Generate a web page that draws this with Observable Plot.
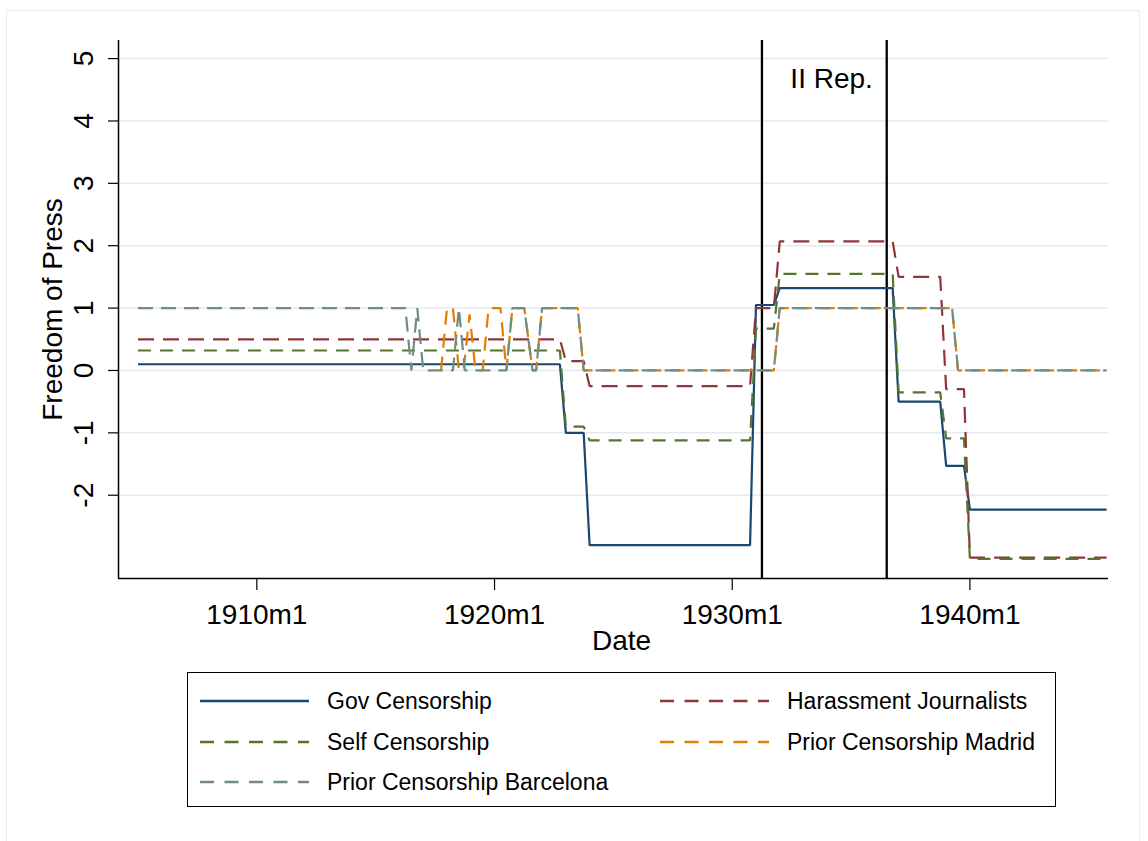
<!DOCTYPE html>
<html>
<head>
<meta charset="utf-8">
<script src="https://cdn.jsdelivr.net/npm/d3@7"></script>
<script src="https://cdn.jsdelivr.net/npm/@observablehq/plot@0.6"></script>
<style>
  body { margin: 0; background: #fff; font-family: "Liberation Sans", Arial, sans-serif; }
  #wrap { position: relative; width: 1148px; height: 841px; overflow: hidden; background: #fff; }
  #border { position: absolute; left: 6px; top: 10px; width: 1134px; height: 880px; border: 1.5px solid #e6edf0; box-sizing: border-box; }
  #chart { position: absolute; left: 0; top: 0; }
  #legend { position: absolute; left: 187px; top: 672px; width: 869px; height: 135px; border: 1.5px solid #000; box-sizing: border-box; background: #fff; }
  .item { position: absolute; height: 30px; display: flex; align-items: center; font-size: 23px; color: #000; white-space: nowrap; }
  .item svg { margin-right: 18px; }
</style>
</head>
<body>
<div id="wrap">
  <div id="border"></div>
  <div id="chart"></div>
  <div id="legend"></div>
</div>
<script>
// ---- Data (date in decimal years, value) ----
const seriesNames = ["Gov Censorship", "Harassment Journalists", "Self Censorship", "Prior Censorship Madrid", "Prior Censorship Barcelona"];
const seriesColors = ["#1a476f", "#90353b", "#55752f", "#e37e00", "#6e8e84"];
const seriesDashes = [null, "16,9", "13,9", "14,9", "15,8"];

const govCensorship = [
  [1905.0, 0.1], [1922.75, 0.1], [1923.0, -1.0], [1923.75, -1.0], [1924.0, -2.8],
  [1930.75, -2.8], [1931.0, 1.05], [1931.75, 1.05], [1932.0, 1.32], [1936.75, 1.32],
  [1937.0, -0.5], [1938.75, -0.5], [1939.0, -1.53], [1939.75, -1.53], [1940.0, -2.23], [1945.75, -2.23]
];
const harassmentJournalists = [
  [1905.0, 0.5], [1922.75, 0.5], [1923.0, 0.15], [1923.75, 0.15], [1924.0, -0.25],
  [1930.75, -0.25], [1931.0, 1.0], [1931.75, 1.0], [1932.0, 2.07], [1936.75, 2.07],
  [1937.0, 1.5], [1938.75, 1.5], [1939.0, -0.3], [1939.75, -0.3], [1940.0, -3.0], [1945.75, -3.0]
];
const selfCensorship = [
  [1905.0, 0.32], [1922.75, 0.32], [1923.0, -0.9], [1923.75, -0.9], [1924.0, -1.12],
  [1930.75, -1.12], [1931.0, 0.67], [1931.75, 0.67], [1932.0, 1.55], [1936.75, 1.55],
  [1937.0, -0.35], [1938.75, -0.35], [1939.0, -1.09], [1939.75, -1.09], [1940.0, -3.02], [1945.75, -3.02]
];
const priorCensorshipMadrid = [
  [1917.75, 0], [1918.0, 1], [1918.25, 1], [1918.5, 0], [1918.7, 0], [1918.95, 0.9], [1919.2, 0],
  [1919.5, 0], [1919.75, 1], [1920.25, 1], [1920.5, 0], [1920.75, 1], [1921.25, 1], [1921.6, 0],
  [1921.75, 0], [1922.0, 1], [1923.5, 1], [1923.75, 0], [1931.75, 0], [1932.0, 1],
  [1939.25, 1], [1939.5, 0], [1945.75, 0]
];
const priorCensorshipBarcelona = [
  [1905.0, 1], [1916.25, 1], [1916.5, 0], [1916.75, 1], [1917.0, 0], [1918.25, 0], [1918.5, 1],
  [1918.75, 0], [1920.5, 0], [1920.75, 1], [1921.25, 1], [1921.6, 0], [1921.75, 0], [1922.0, 1],
  [1923.5, 1], [1923.75, 0], [1931.75, 0], [1932.0, 1], [1939.25, 1], [1939.5, 0], [1945.75, 0]
];
const seriesData = [govCensorship, harassmentJournalists, selfCensorship, priorCensorshipMadrid, priorCensorshipBarcelona];

const xTicks = [1910, 1920, 1930, 1940];
const yTicks = [5, 4, 3, 2, 1, 0, -1, -2];
const republicBounds = [1931.25, 1936.5]; // 1931m4, 1936m7
const republicLabel = "II Rep.";
const republicLabelPos = [1934.18, 4.68];
const xTitle = "Date";
const yTitle = "Freedom of Press";
const xDomain = [1904.18, 1945.83];
const yDomain = [-3.335, 5.29];

const FONT = '"Liberation Sans", Arial, sans-serif';

const lineMarks = seriesData.map((data, i) =>
  Plot.line(data, {
    x: d => d[0], y: d => d[1],
    stroke: seriesColors[i], strokeWidth: 2.2,
    strokeDasharray: seriesDashes[i] || undefined,
    strokeLinecap: "butt", strokeLinejoin: "miter"
  })
);

const chart = Plot.plot({
  width: 1148, height: 665,
  marginLeft: 118, marginRight: 40, marginTop: 40, marginBottom: 87,
  x: { domain: xDomain },
  y: { domain: yDomain },
  style: { fontFamily: FONT, background: "transparent", color: "#000", overflow: "visible" },
  marks: [
    Plot.gridY({ ticks: yTicks, stroke: "#e2eaee", strokeOpacity: 1, strokeWidth: 1.5 }),
    Plot.ruleX(republicBounds, { stroke: "#000", strokeWidth: 2.3 }),
    ...lineMarks,
    Plot.text([republicLabel], { x: () => republicLabelPos[0], y: () => republicLabelPos[1], text: d => d, fontSize: 28, fill: "#000" }),
    Plot.ruleX([xDomain[0]], { stroke: "#000", strokeWidth: 1.5 }),
    Plot.ruleY([yDomain[0]], { stroke: "#000", strokeWidth: 1.5 }),
    Plot.axisX({ ticks: xTicks, tickSize: 12, tickPadding: 14, tickFormat: d => `${d}m1`, fontSize: 28, label: null, strokeWidth: 1.2 }),
    Plot.axisY({ ticks: yTicks, tickSize: 10, tickFormat: () => "", label: null, strokeWidth: 1.2 }),
    Plot.text(yTicks, { y: d => d, frameAnchor: "left", dx: -34, rotate: -90, textAnchor: "middle", lineAnchor: "middle", text: d => String(d), fontSize: 28, fill: "#000" }),
    Plot.text([yTitle], { frameAnchor: "left", dx: -65, rotate: -90, textAnchor: "middle", lineAnchor: "middle", text: d => d, fontSize: 28, fill: "#000" }),
    Plot.text([xTitle], { frameAnchor: "bottom", dx: 8, dy: 63, textAnchor: "middle", lineAnchor: "middle", text: d => d, fontSize: 28, fill: "#000" })
  ]
});
document.getElementById("chart").appendChild(chart);

// ---- Legend ----
const legend = document.getElementById("legend");
const legendOrder = [0, 1, 2, 3, 4];
const colX = [12, 472];
const rowY = [13, 54, 94];
legendOrder.forEach((si, k) => {
  const col = k % 2, row = Math.floor(k / 2);
  const item = document.createElement("div");
  item.className = "item";
  item.style.left = colX[col] + "px";
  item.style.top = rowY[row] + "px";
  const dash = seriesDashes[si] ? 'stroke-dasharray="14,10.5"' : "";
  item.innerHTML = `<svg width="109" height="6"><line x1="0" y1="3" x2="109" y2="3" stroke="${seriesColors[si]}" stroke-width="2.4" ${dash}/></svg><span>${seriesNames[si]}</span>`;
  legend.appendChild(item);
});
</script>
</body>
</html>
